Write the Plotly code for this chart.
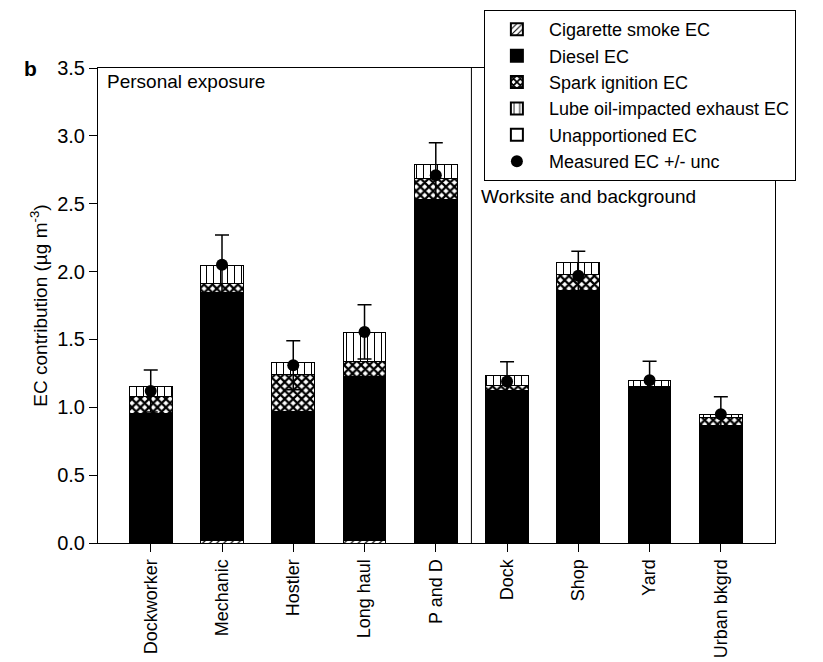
import plotly.graph_objects as go

categories = ["Dockworker", "Mechanic", "Hostler", "Long haul", "P and D",
              "Dock", "Shop", "Yard", "Urban bkgrd"]
cigarette = [0.0, 0.015, 0.0, 0.02, 0.0, 0.0, 0.0, 0.0, 0.0]
diesel = [0.955, 1.83, 0.968, 1.21, 2.528, 1.122, 1.857, 1.152, 0.865]
spark = [0.122, 0.07, 0.277, 0.11, 0.16, 0.042, 0.125, 0.0, 0.061]
lube = [0.079, 0.13, 0.086, 0.212, 0.098, 0.067, 0.084, 0.049, 0.022]
unapportioned = [0.0, 0.0, 0.0, 0.0, 0.0, 0.0, 0.0, 0.0, 0.0]
measured = [1.12, 2.05, 1.31, 1.555, 2.71, 1.19, 1.97, 1.20, 0.948]
uncertainty = [0.155, 0.22, 0.18, 0.20, 0.24, 0.145, 0.18, 0.14, 0.13]
y_ticks = [0.0, 0.5, 1.0, 1.5, 2.0, 2.5, 3.0, 3.5]

FONT = "Liberation Sans, Arial, Helvetica, sans-serif"
x = list(range(len(categories)))

fig = go.Figure()

def add_bar(name, vals, fill, shape, fg="black", size=6, solidity=0.3):
    pattern = dict(shape=shape, fgcolor=fg, bgcolor=fill, size=size,
                   solidity=solidity, fillmode="replace") if shape else None
    fig.add_trace(go.Bar(
        x=x, y=vals, name=name, width=0.6,
        marker=dict(color=fill, line=dict(color="black", width=1),
                    pattern=pattern),
    ))

add_bar("Cigarette smoke EC", cigarette, "white", "/", size=5, solidity=0.25)
add_bar("Diesel EC", diesel, "black", "")
add_bar("Spark ignition EC", spark, "white", "x", size=6, solidity=0.6)
add_bar("Lube oil-impacted exhaust EC", lube, "white", "|", size=7, solidity=0.15)
add_bar("Unapportioned EC", unapportioned, "white", "")

fig.add_trace(go.Scatter(
    x=x, y=measured, mode="markers", name="Measured EC +/- unc",
    marker=dict(color="black", size=12),
    error_y=dict(type="data", array=uncertainty, visible=True,
                 color="black", thickness=1.5, width=7),
))

fig.add_shape(type="line", xref="x", yref="paper", x0=4.5, x1=4.5, y0=0, y1=1,
              line=dict(color="black", width=1))

fig.add_annotation(text="Personal exposure", xref="paper", yref="paper",
                   x=0.01, y=0.997, xanchor="left", yanchor="top",
                   showarrow=False, font=dict(size=19, color="black", family=FONT))
fig.add_annotation(text="Worksite and background", xref="x", yref="y",
                   x=4.6, y=2.55, xanchor="left", yanchor="middle",
                   showarrow=False, font=dict(size=19, color="black", family=FONT))
fig.add_annotation(text="<b>b</b>", xref="paper", yref="paper",
                   x=-0.1, y=1.0, xanchor="center", yanchor="middle",
                   showarrow=False, font=dict(size=21, color="black", family=FONT))

fig.update_layout(
    width=815, height=654,
    barmode="stack",
    bargap=0.4,
    paper_bgcolor="white", plot_bgcolor="white",
    font=dict(family=FONT, size=19, color="black"),
    margin=dict(l=90, r=48, t=60, b=119, autoexpand=False),
    showlegend=True,
    legend=dict(x=0.57, y=1.122, xanchor="left", yanchor="top",
                bgcolor="white", bordercolor="black", borderwidth=1,
                traceorder="normal", font=dict(size=18, family=FONT),
                itemsizing="constant", tracegroupgap=0, itemwidth=54),
    xaxis=dict(range=[-0.74, 8.76], tickmode="array", tickvals=x,
               ticktext=categories, tickangle=-90, ticks="outside",
               ticklen=8, tickcolor="black", showline=True, linecolor="black",
               linewidth=1, mirror=True, showgrid=False, zeroline=False,
               tickfont=dict(size=18), automargin=False),
    yaxis=dict(range=[0, 3.5], tickmode="array", tickvals=y_ticks,
               ticktext=[f"{v:.1f}" for v in y_ticks], ticks="outside",
               ticklen=8, tickcolor="black", showline=True, linecolor="black",
               linewidth=1, mirror=True, showgrid=False, zeroline=False,
               title=dict(text="EC contribution (µg m<sup>-3</sup>)",
                          font=dict(size=19), standoff=4),
               tickfont=dict(size=20), automargin=False),
)

fig.write_html("out.html")
